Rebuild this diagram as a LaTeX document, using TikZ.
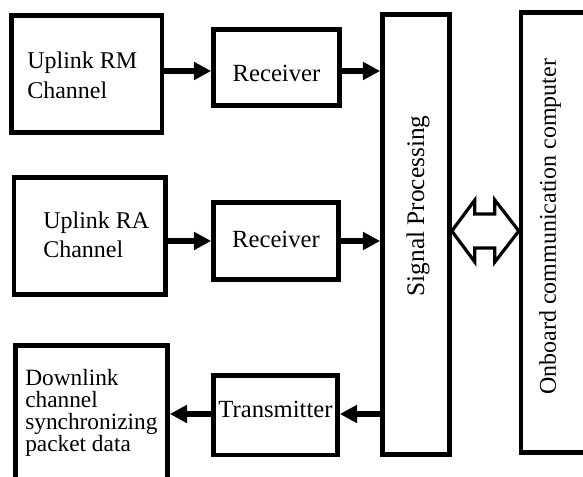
\documentclass[tikz,border=0pt]{standalone}
\usepackage{fontspec}
\setmainfont{Liberation Serif}
\usetikzlibrary{arrows.meta,calc}
\tikzset{
  blk/.style 2 args={draw=black, line width=3.5pt, fill=white, rectangle,
    minimum width=#1*0.75pt, minimum height=#2*0.75pt, inner sep=0pt,
    font=\fontsize{18.5}{22}\selectfont},
  lbl/.style={inner sep=0pt, align=left},
  arr/.style={line width=3.8pt, -{Triangle[length=13pt,width=13pt]}},
  dbl/.style={draw=black, line width=2.4pt, fill=white, line join=miter}
}
\begin{document}
\begin{tikzpicture}[x=0.75pt,y=-0.75pt]
\useasboundingbox (0,0) rectangle (583,477);
\clip (0,0) rectangle (583,477);
% boxes
\node[blk={150.5}{117}] (b1) at (86.75,74) {};
\node[blk={151.5}{117}] (b2) at (89.75,236) {};
\node[blk={152}{134.5}] (b3) at (91.5,412.75) {};
\node[blk={126}{76}, text height=21.75pt, text depth=0pt] (r1) at (276.5,67.5) {Receiver};
\node[blk={125}{77}, text height=10.5pt, text depth=0pt] (r2) at (276,241) {Receiver};
\node[blk={124}{79.5}, text height=4.1pt, text depth=0pt] (tx) at (275.5,415.25) {Transmitter};
\node[blk={67}{440}] (sp) at (416,234.5) {};
\node[blk={79}{440}] (occ) at (560.5,232.5) {};
% texts
\node[lbl, anchor=west, font=\fontsize{18}{22.5}\selectfont] (t1) at (27,74.8) {Uplink RM\\Channel};
\node[lbl, anchor=west, font=\fontsize{18}{21.75}\selectfont] (t2) at (43,234.3) {Uplink RA\\Channel};
\node[lbl, anchor=west, font=\fontsize{17.5}{16.7}\selectfont] (t3) at (25,412.8) {Downlink\\channel\\synchronizing\\packet data};
\node[lbl, rotate=90, font=\fontsize{19}{22}\selectfont] (tsp) at (418,206) {Signal Processing};
\node[lbl, rotate=90, font=\fontsize{18}{21.6}\selectfont] (tocc) at (550,227) {Onboard communication computer};
% connectors
\coordinate (y1) at (0,71);
\coordinate (y2) at (0,241);
\coordinate (y3) at (0,414);
\draw[arr] (b1.east |- y1) -- (r1.west |- y1);
\draw[arr] (r1.east |- y1) -- (sp.west |- y1);
\draw[arr] (b2.east |- y2) -- (r2.west |- y2);
\draw[arr] (r2.east |- y2) -- (sp.west |- y2);
\draw[arr] (sp.west |- y3) -- (tx.east |- y3);
\draw[arr] (tx.west |- y3) -- (b3.east |- y3);
% double arrow
\coordinate (dl) at (sp.east |- 0,231);
\draw[dbl] (dl) -- ++(23,-31) -- ++(0,14) -- ++(20,0) -- ++(0,-14) -- ++(24,31)
  -- ++(-24,31) -- ++(0,-14) -- ++(-20,0) -- ++(0,14) -- cycle;
\end{tikzpicture}
\end{document}
